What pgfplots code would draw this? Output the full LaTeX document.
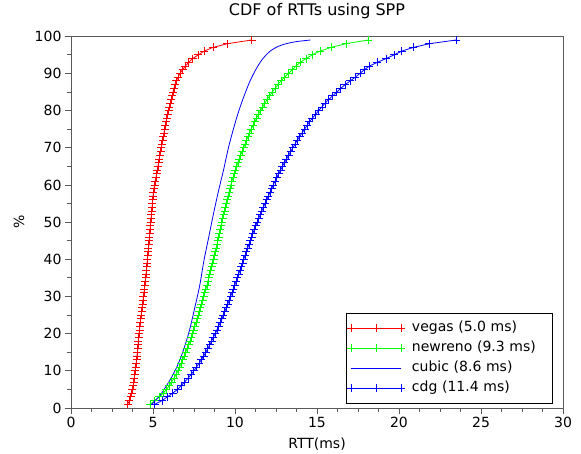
\documentclass[border=0pt]{standalone}
\usepackage{fontspec}
\setmainfont{DejaVu Sans}
\usepackage{pgfplots}
\usepackage{pgfplotstable}
\pgfplotsset{compat=1.18}
\pgfplotsset{
  legmark/.style={legend image code/.code={\draw[draw=#1, line width=0.8pt, mark=+, mark size=4pt, mark options={draw=#1}] plot coordinates {(0pt,0pt) (25pt,0pt) (50pt,0pt)};}},
  legline/.style={legend image code/.code={\draw[draw=#1, line width=0.8pt] (0pt,0pt) -- (50pt,0pt);}},
}

% percentile -> RTT (ms)
\pgfplotstableread{
p vegas newreno cdg
1 3.46 4.82 5.10
2 3.56 5.10 5.55
3 3.63 5.38 5.88
4 3.69 5.63 6.20
5 3.74 5.82 6.50
6 3.79 5.99 6.72
7 3.83 6.14 6.93
8 3.86 6.28 7.13
9 3.89 6.41 7.32
10 3.92 6.52 7.49
11 3.95 6.62 7.65
12 3.97 6.72 7.81
13 4.00 6.81 7.95
14 4.02 6.90 8.09
15 4.05 6.99 8.22
16 4.07 7.08 8.34
17 4.09 7.17 8.46
18 4.11 7.25 8.57
19 4.13 7.33 8.68
20 4.15 7.41 8.79
21 4.18 7.48 8.90
22 4.20 7.55 9.00
23 4.23 7.62 9.10
24 4.25 7.69 9.20
25 4.28 7.76 9.29
26 4.31 7.83 9.38
27 4.34 7.89 9.47
28 4.37 7.95 9.56
29 4.39 8.02 9.65
30 4.42 8.09 9.73
31 4.45 8.15 9.82
32 4.48 8.22 9.90
33 4.50 8.29 9.98
34 4.53 8.35 10.06
35 4.55 8.40 10.14
36 4.57 8.46 10.22
37 4.60 8.52 10.30
38 4.62 8.58 10.38
39 4.64 8.63 10.46
40 4.66 8.69 10.53
41 4.68 8.74 10.61
42 4.70 8.79 10.69
43 4.72 8.85 10.77
44 4.74 8.90 10.85
45 4.76 8.95 10.93
46 4.78 9.00 11.01
47 4.80 9.05 11.09
48 4.82 9.10 11.17
49 4.84 9.15 11.26
50 4.86 9.20 11.35
51 4.88 9.25 11.44
52 4.90 9.30 11.54
53 4.92 9.36 11.63
54 4.94 9.41 11.73
55 4.96 9.46 11.83
56 4.98 9.51 11.93
57 5.00 9.57 12.03
58 5.03 9.63 12.13
59 5.06 9.69 12.23
60 5.10 9.75 12.33
61 5.14 9.81 12.44
62 5.18 9.88 12.55
63 5.22 9.95 12.66
64 5.26 10.02 12.78
65 5.30 10.10 12.89
66 5.34 10.18 13.01
67 5.38 10.26 13.14
68 5.42 10.34 13.27
69 5.46 10.43 13.40
70 5.50 10.52 13.53
71 5.54 10.61 13.66
72 5.59 10.70 13.79
73 5.63 10.79 13.94
74 5.67 10.89 14.09
75 5.71 10.99 14.24
76 5.75 11.10 14.39
77 5.80 11.21 14.54
78 5.84 11.32 14.72
79 5.89 11.43 14.91
80 5.95 11.55 15.10
81 6.00 11.68 15.30
82 6.06 11.82 15.49
83 6.11 11.96 15.71
84 6.17 12.11 15.96
85 6.22 12.27 16.21
86 6.28 12.44 16.45
87 6.34 12.62 16.72
88 6.43 12.81 17.03
89 6.53 13.02 17.33
90 6.65 13.25 17.62
91 6.80 13.50 17.88
92 6.98 13.72 18.20
93 7.18 13.98 18.68
94 7.42 14.33 19.21
95 7.76 14.70 19.70
96 8.11 15.18 20.16
97 8.66 15.85 20.87
98 9.53 16.77 21.85
99 11.02 18.13 23.48
}\rtt

\begin{document}
\begin{tikzpicture}
\begin{axis}[
  scale only axis, width=492pt, height=371.7pt,
  xmin=0, xmax=30, ymin=0, ymax=100,
  xtick={0,5,...,30}, ytick={0,10,...,100},
  minor x tick num=3, minor y tick num=1,
  tick align=outside, xtick pos=left, ytick pos=left,
  major tick length=6pt, minor tick length=4pt,
  axis line style={black!65, line width=0.9pt},
  tick style={black!65, line width=0.9pt},
  tick label style={font=\fontsize{14}{16}\selectfont},
  /pgf/number format/assume math mode=true,
  title={CDF of RTTs using SPP},
  title style={font=\fontsize{16}{18}\selectfont, at={(axis description cs:0.5,1.0517)}, anchor=center},
  xlabel={RTT(ms)}, ylabel={\%},
  label style={font=\fontsize{14}{16}\selectfont},
  xlabel style={at={(axis description cs:0.5,-0.098)}, anchor=center},
  ylabel style={at={(axis description cs:-0.1057,0.5)}, anchor=center},
  legend style={at={(axis description cs:0.979,0.0135)}, anchor=south east,
    fill=white, font=\fontsize{14}{16}\selectfont,
    inner xsep=1pt, inner ysep=4.7pt, row sep=0pt, column sep=6pt,
    nodes={inner xsep=0.5pt, inner ysep=3pt, text height=10.5pt, text depth=3.5pt, text width=139pt}},
  legend cell align=left,
]
\coordinate (ll) at (rel axis cs:0,0);
\addplot[red, line width=0.8pt, mark=+, mark size=4pt, legmark=red] table[x=vegas, y=p] {\rtt};
\addlegendentry{vegas (5.0 ms)}
\addplot[green, line width=0.8pt, mark=+, mark size=4pt, legmark=green] table[x=newreno, y=p] {\rtt};
\addlegendentry{newreno (9.3 ms)}
\addplot[blue, line width=0.8pt, smooth, legline=blue] coordinates {
  (4.92,1) (5.15,2) (5.45,3.5) (5.75,5.5) (6.10,8) (6.50,11.5) (6.85,15.5)
  (7.20,20.5) (7.55,27) (7.85,33) (8.10,39.5) (8.40,46) (8.70,52.5) (9.00,58.5)
  (9.30,64) (9.60,70) (9.90,75) (10.20,79.5) (10.50,83.3) (10.90,87.8)
  (11.30,91.3) (11.70,94) (12.20,96.2) (12.70,97.4) (13.20,98.1) (13.80,98.6) (14.60,99)};
\addlegendentry{cubic (8.6 ms)}
\addplot[blue, line width=0.8pt, mark=+, mark size=4pt, legmark=blue] table[x=cdg, y=p] {\rtt};
\addlegendentry{cdg (11.4 ms)}
\end{axis}
\path (ll) ++(-71pt,-45.3pt) rectangle ++(581pt,452pt);
\end{tikzpicture}
\end{document}
